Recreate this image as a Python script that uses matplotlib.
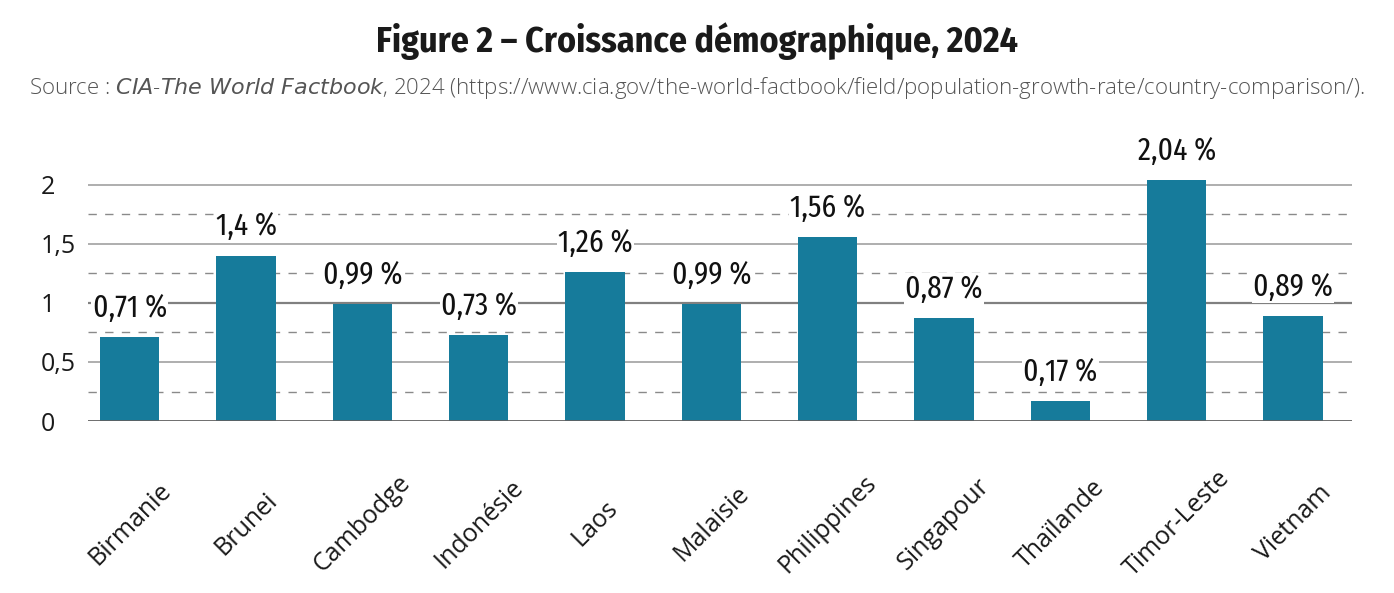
import matplotlib.pyplot as plt
import numpy as np

pays = ['Birmanie', 'Brunei', 'Cambodge', 'Indonésie', 'Laos', 'Malaisie',
        'Philippines', 'Singapour', 'Thaïlande', 'Timor-Leste', 'Vietnam']
croissance = [0.71, 1.4, 0.99, 0.73, 1.26, 0.99, 1.56, 0.87, 0.17, 2.04, 0.89]
etiquettes = ['0,71 %', '1,4 %', '0,99 %', '0,73 %', '1,26 %', '0,99 %',
              '1,56 %', '0,87 %', '0,17 %', '2,04 %', '0,89 %']
yticks = [0, 0.5, 1, 1.5, 2]
ytick_labels = ['0', '0,5', '1', '1,5', '2']

titre_font = ['Fira Sans Condensed', 'Roboto Condensed', 'DejaVu Sans']
valeur_font = ['Fira Sans Extra Condensed', 'Roboto Condensed', 'DejaVu Sans']
texte_font = ['Open Sans', 'DejaVu Sans']

fig = plt.figure(figsize=(13.94, 5.93), dpi=100)
ax = fig.add_axes([0.0631, 0.29, 0.907, 0.458])

x = np.arange(len(pays))
ax.bar(x, croissance, width=0.51, color='#167b9b', zorder=3)

# grille : pleines tous les 0,5, pointillés entre
for v in [0.5, 1.5, 2]:
    ax.axhline(v, color='#a8a8a8', lw=1.3, zorder=1)
ax.axhline(1, color='#808080', lw=1.6, zorder=1)
for v in [0.25, 0.75, 1.25, 1.75]:
    ax.axhline(v, color='#8a8a8a', lw=1, ls=(0, (6, 6)), zorder=1)
ax.axhline(0, color='#606060', lw=2, zorder=4)

for xi, v, lab in zip(x, croissance, etiquettes):
    ax.annotate(lab, (xi, v), xytext=(0, 10), textcoords='offset points',
                ha='center', va='bottom', fontsize=23, family=valeur_font,
                weight='normal', color='#111111', zorder=5,
                bbox=dict(facecolor='white', edgecolor='none', pad=1))

ax.set_xlim(-0.36, 10.51)
ax.set_ylim(0, 2.3)
ax.set_yticks(yticks)
ax.set_yticklabels(ytick_labels, fontsize=18, color='#1a1a1a',
                   family=texte_font, ha='left')
ax.set_xticks(x)
ax.set_xticklabels(pays, rotation=45, ha='center', va='center',
                   rotation_mode='anchor', fontsize=18, color='#1a1a1a',
                   family=texte_font)
ax.tick_params(length=0)
ax.tick_params(axis='y', pad=34)
ax.tick_params(axis='x', pad=74)
for s in ax.spines.values():
    s.set_visible(False)

fig.text(0.5, 0.93, 'Figure 2 – Croissance démographique, 2024', ha='center',
         va='center', fontsize=25.8, weight='bold', family=titre_font,
         color='#1a1a1a')
fig.text(0.5, 0.851,
         'Source : $\\it{CIA}$-$\\it{The\\ World\\ Factbook}$, 2024 '
         '(https://www.cia.gov/the-world-factbook/field/population-growth-rate/country-comparison/).',
         ha='center', va='center', fontsize=16, color='#555555',
         family=texte_font, weight='light')

fig.savefig('out.png', dpi=100)
